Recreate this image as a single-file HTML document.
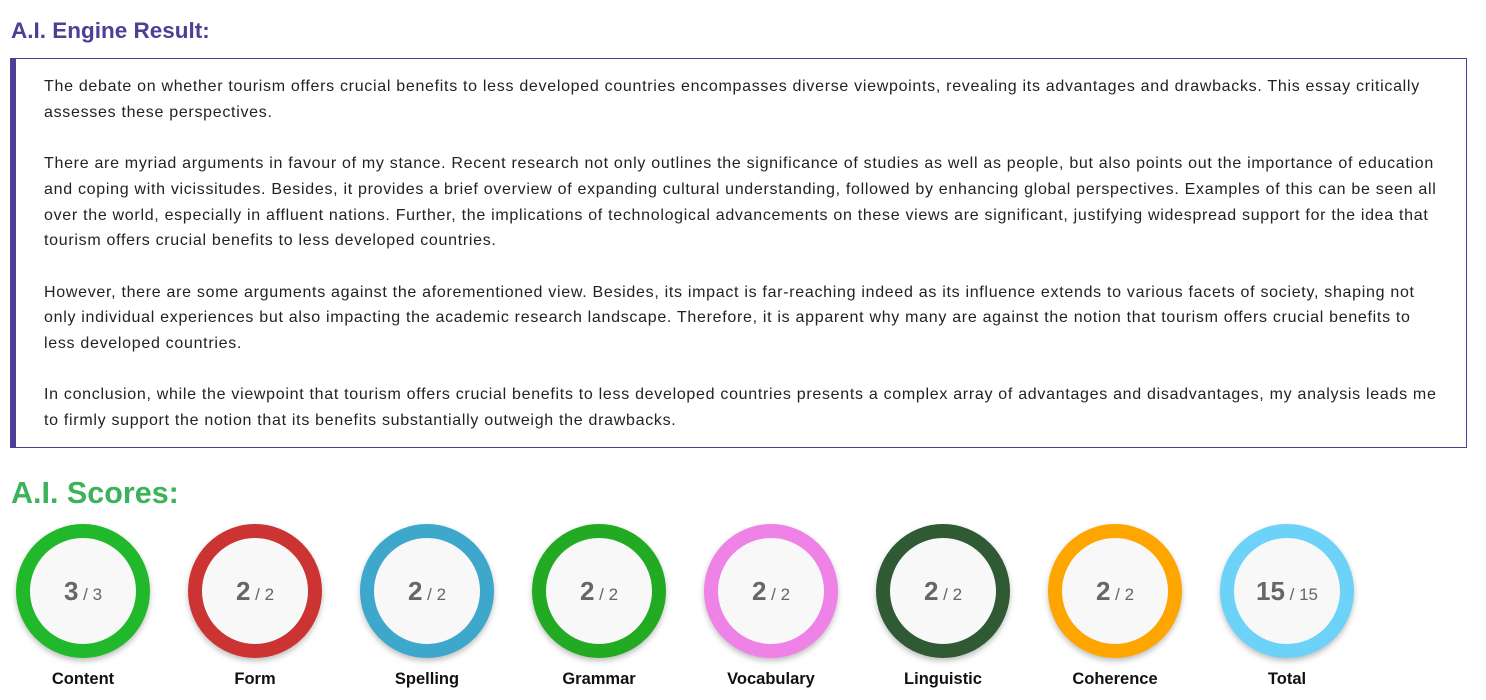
<!DOCTYPE html>
<html><head><meta charset="utf-8"><style>
body{margin:0;width:1486px;height:700px;background:#fff;font-family:"Liberation Sans",sans-serif;position:relative;overflow:hidden}
h1{position:absolute;left:11px;top:18px;margin:0;font-size:22.5px;font-weight:bold;color:#4d3f96}
.box{position:absolute;left:10px;top:58px;width:1450px;height:388px;border:1px solid #4d3f96;border-left:6px solid #4d3f96;box-sizing:content-box}
.txt{position:absolute;left:44px;top:74px;font-size:16px;line-height:25.7px;color:#222;white-space:nowrap;letter-spacing:0.7px}
.txt p{margin:0 0 25.7px 0}
h2{position:absolute;left:11px;top:476px;margin:0;font-size:30.5px;font-weight:bold;color:#3cb35a}
.c{position:absolute;top:524px;width:134px;height:134px;border-radius:50%;box-sizing:border-box;border:14px solid;background:#f8f8f8;box-shadow:0 3px 6px rgba(0,0,0,.25);text-align:center;line-height:106px;color:#666;font-weight:bold}
.c b{font-size:26px}.c span{font-size:17px;font-weight:normal}
.l{position:absolute;top:670px;width:160px;text-align:center;font-size:16.5px;font-weight:bold;color:#111}
</style></head><body>
<h1>A.I. Engine Result:</h1>
<div class="box"></div>
<div class="txt">
<p>The debate on whether tourism offers crucial benefits to less developed countries encompasses diverse viewpoints, revealing its advantages and drawbacks. This essay critically<br>assesses these perspectives.</p>
<p>There are myriad arguments in favour of my stance. Recent research not only outlines the significance of studies as well as people, but also points out the importance of education<br>and coping with vicissitudes. Besides, it provides a brief overview of expanding cultural understanding, followed by enhancing global perspectives. Examples of this can be seen all<br>over the world, especially in affluent nations. Further, the implications of technological advancements on these views are significant, justifying widespread support for the idea that<br>tourism offers crucial benefits to less developed countries.</p>
<p>However, there are some arguments against the aforementioned view. Besides, its impact is far-reaching indeed as its influence extends to various facets of society, shaping not<br>only individual experiences but also impacting the academic research landscape. Therefore, it is apparent why many are against the notion that tourism offers crucial benefits to<br>less developed countries.</p>
<p>In conclusion, while the viewpoint that tourism offers crucial benefits to less developed countries presents a complex array of advantages and disadvantages, my analysis leads me<br>to firmly support the notion that its benefits substantially outweigh the drawbacks.</p>
</div>
<h2>A.I. Scores:</h2>
<div class="c" style="left:16px;border-color:#21b92b"><b>3</b><span> / 3</span></div><div class="l" style="left:3px">Content</div>
<div class="c" style="left:188px;border-color:#cc3333"><b>2</b><span> / 2</span></div><div class="l" style="left:175px">Form</div>
<div class="c" style="left:360px;border-color:#3ea7cc"><b>2</b><span> / 2</span></div><div class="l" style="left:347px">Spelling</div>
<div class="c" style="left:532px;border-color:#22aa22"><b>2</b><span> / 2</span></div><div class="l" style="left:519px">Grammar</div>
<div class="c" style="left:704px;border-color:#ee82e6"><b>2</b><span> / 2</span></div><div class="l" style="left:691px">Vocabulary</div>
<div class="c" style="left:876px;border-color:#2f5a33"><b>2</b><span> / 2</span></div><div class="l" style="left:863px">Linguistic</div>
<div class="c" style="left:1048px;border-color:#ffa500"><b>2</b><span> / 2</span></div><div class="l" style="left:1035px">Coherence</div>
<div class="c" style="left:1220px;border-color:#6dd2f8"><b>15</b><span> / 15</span></div><div class="l" style="left:1207px">Total</div>
</body></html>
